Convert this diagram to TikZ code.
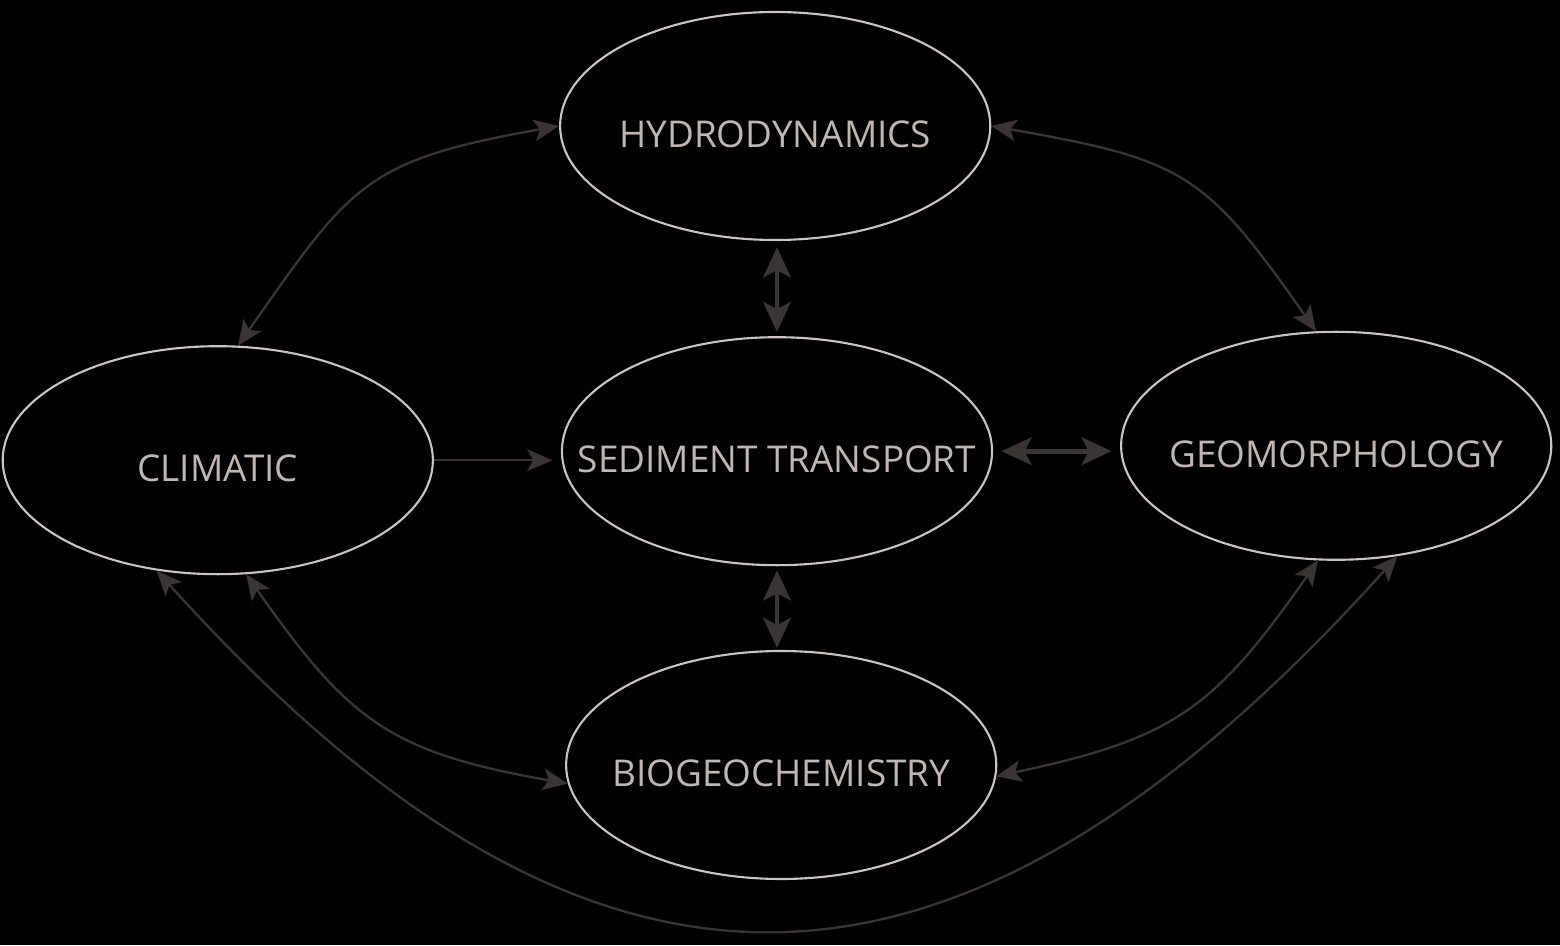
\documentclass[tikz,border=0pt]{standalone}
\usepackage{fontspec}
\setmainfont{Open Sans}
\usetikzlibrary{arrows.meta,shapes.geometric}
\definecolor{rimgray}{RGB}{205,196,192}
\definecolor{inkgray}{RGB}{192,183,179}
\definecolor{linkgray}{RGB}{58,53,52}
\begin{document}
\begin{tikzpicture}[
    fieldtext/.style={text=inkgray, yshift=-4pt,
      font=\fontsize{17.5}{20}\selectfont},
    field/.style={ellipse, draw=rimgray, line width=1pt, minimum width=7.17cm,
      minimum height=3.8cm, inner sep=0pt, label={[fieldtext]center:#1}},
    link/.style={draw=linkgray, line width=1.1pt,
      {Stealth[length=0.42cm,width=0.36cm,inset=0.1cm]}-{Stealth[length=0.42cm,width=0.36cm,inset=0.1cm]}},
    onelink/.style={draw=linkgray, line width=1.1pt,
      -{Stealth[length=0.42cm,width=0.36cm,inset=0.1cm]}},
    boldlink/.style={draw=linkgray, line width=2.2pt,
      {Stealth[length=0.5cm,width=0.46cm,inset=0.12cm]}-{Stealth[length=0.5cm,width=0.46cm,inset=0.12cm]}}
  ]
    \useasboundingbox[fill=black] (0, 0) rectangle (26, 15.75);

    \node[field=HYDRODYNAMICS] (hyd) at (12.92, 13.65) {};
    \node[field=SEDIMENT TRANSPORT] (sed) at (12.95, 8.23) {};
    \node[field=CLIMATIC] (cli) at (3.63, 8.08) {};
    \node[field=GEOMORPHOLOGY] (geo) at (22.27, 8.32) {};
    \node[field=BIOGEOCHEMISTRY] (bio) at (13.02, 3.00) {};

    \draw[link] (hyd.west) to[out=190, in=55, looseness=1.3] (cli.80);
    \draw[link] (hyd.east) to[out=-10, in=125, looseness=1.3] (geo.100);
    \draw[boldlink, shorten <=3pt, shorten >=2pt] (hyd.south -| sed.north) -- (sed.north);
    \draw[onelink, shorten >=4pt] (cli.east) -- (sed.west |- cli.east);
    \draw[boldlink, shorten <=4pt, shorten >=4pt] (sed.east) -- (geo.west |- sed.east);
    \draw[boldlink, shorten <=2pt, shorten >=1pt] (sed.south) -- (bio.north -| sed.south);
    \draw[link] (cli.-76) to[out=-55, in=170, looseness=1.2] (bio.185);
    \draw[link] (geo.-99) to[out=-125, in=12, looseness=1.2] (bio.-3);
    \draw[link] (cli.-119) to[out=-48, in=-132, looseness=1.35] (geo.-61);
  \end{tikzpicture}
\end{document}
